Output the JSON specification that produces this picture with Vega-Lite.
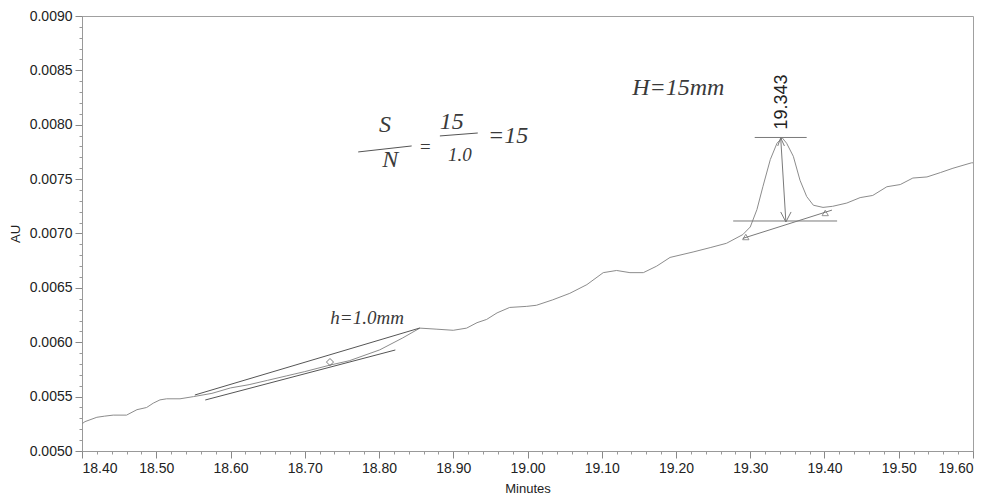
{
  "$schema": "https://vega.github.io/schema/vega-lite/v6.json",
  "width": 891,
  "height": 435,
  "autosize": {"type": "none"},
  "padding": {"left": 82, "top": 16, "right": 20, "bottom": 46},
  "background": "white",
  "config": {"view": {"stroke": "#a0a0a0", "strokeWidth": 1}, "font": "Liberation Sans"},
  "datasets": {
    "trace": [
      {"t": 18.400, "au": 0.00525}, {"t": 18.404, "au": 0.00527}, {"t": 18.420, "au": 0.00531},
      {"t": 18.430, "au": 0.00532}, {"t": 18.442, "au": 0.00533}, {"t": 18.460, "au": 0.00533},
      {"t": 18.474, "au": 0.00538}, {"t": 18.487, "au": 0.00540}, {"t": 18.496, "au": 0.00544},
      {"t": 18.505, "au": 0.00547}, {"t": 18.514, "au": 0.00548}, {"t": 18.532, "au": 0.00548},
      {"t": 18.550, "au": 0.00550}, {"t": 18.575, "au": 0.00553}, {"t": 18.600, "au": 0.00558},
      {"t": 18.625, "au": 0.00561}, {"t": 18.650, "au": 0.00565}, {"t": 18.675, "au": 0.00569},
      {"t": 18.700, "au": 0.00573}, {"t": 18.734, "au": 0.00579}, {"t": 18.760, "au": 0.00583},
      {"t": 18.801, "au": 0.00593}, {"t": 18.832, "au": 0.00604}, {"t": 18.855, "au": 0.00613},
      {"t": 18.878, "au": 0.00612}, {"t": 18.900, "au": 0.00611}, {"t": 18.918, "au": 0.00613},
      {"t": 18.932, "au": 0.00618}, {"t": 18.945, "au": 0.00621}, {"t": 18.959, "au": 0.00627},
      {"t": 18.976, "au": 0.00632}, {"t": 18.999, "au": 0.00633}, {"t": 19.012, "au": 0.00634},
      {"t": 19.034, "au": 0.00639}, {"t": 19.057, "au": 0.00645}, {"t": 19.080, "au": 0.00653},
      {"t": 19.102, "au": 0.00664}, {"t": 19.120, "au": 0.00666}, {"t": 19.138, "au": 0.00664},
      {"t": 19.156, "au": 0.00664}, {"t": 19.174, "au": 0.00670}, {"t": 19.192, "au": 0.00678},
      {"t": 19.223, "au": 0.00683}, {"t": 19.246, "au": 0.00687}, {"t": 19.268, "au": 0.00691},
      {"t": 19.290, "au": 0.00699}, {"t": 19.300, "au": 0.00706}, {"t": 19.309, "au": 0.00722},
      {"t": 19.317, "au": 0.00743}, {"t": 19.327, "au": 0.00768}, {"t": 19.336, "au": 0.00783},
      {"t": 19.343, "au": 0.00788}, {"t": 19.349, "au": 0.00783}, {"t": 19.358, "au": 0.00771},
      {"t": 19.367, "au": 0.00749}, {"t": 19.376, "au": 0.00734}, {"t": 19.385, "au": 0.00726},
      {"t": 19.398, "au": 0.00724}, {"t": 19.411, "au": 0.00725}, {"t": 19.430, "au": 0.00728},
      {"t": 19.448, "au": 0.00733}, {"t": 19.465, "au": 0.00735}, {"t": 19.484, "au": 0.00743},
      {"t": 19.502, "au": 0.00745}, {"t": 19.519, "au": 0.00751}, {"t": 19.538, "au": 0.00752},
      {"t": 19.556, "au": 0.00756}, {"t": 19.573, "au": 0.00760}, {"t": 19.598, "au": 0.00765},
      {"t": 19.600, "au": 0.00765}
    ],
    "peakLines": [
      {"t": 19.306, "au": 0.007883, "t2": 19.376, "au2": 0.007883},
      {"t": 19.277, "au": 0.007115, "t2": 19.417, "au2": 0.007115},
      {"t": 19.290, "au": 0.006955, "t2": 19.410, "au2": 0.007215},
      {"t": 19.341, "au": 0.00788, "t2": 19.348, "au2": 0.007106},
      {"t": 19.348, "au": 0.007106, "t2": 19.341, "au2": 0.007198},
      {"t": 19.348, "au": 0.007106, "t2": 19.355, "au2": 0.007198},
      {"t": 19.341, "au": 0.00788, "t2": 19.337, "au2": 0.007805},
      {"t": 19.341, "au": 0.00788, "t2": 19.346, "au2": 0.007805}
    ],
    "handLines": [
      {"t": 18.552, "au": 0.005515, "t2": 18.855, "au2": 0.006131},
      {"t": 18.566, "au": 0.005469, "t2": 18.822, "au2": 0.005929},
      {"t": 18.772, "au": 0.00775, "t2": 18.844, "au2": 0.007805},
      {"t": 18.882, "au": 0.007897, "t2": 18.933, "au2": 0.007924}
    ],
    "baseMarks": [{"t": 19.294, "au": 0.006968}, {"t": 19.401, "au": 0.007189}],
    "diamond": [{"t": 18.734, "au": 0.005818}],
    "peakLabel": [{"label": "19.343", "t": 19.343, "au": 0.008209}],
    "notesLarge": [
      {"label": "S", "t": 18.808, "au": 0.00800},
      {"label": "N", "t": 18.815, "au": 0.007676},
      {"label": "15", "t": 18.898, "au": 0.008025},
      {"label": "=15", "t": 18.974, "au": 0.007897},
      {"label": "H=15mm", "t": 19.203, "au": 0.008338}
    ],
    "notesSmall": [
      {"label": "=", "t": 18.862, "au": 0.007795},
      {"label": "1.0", "t": 18.909, "au": 0.007722},
      {"label": "h=1.0mm", "t": 18.784, "au": 0.006223}
    ]
  },
  "resolve": {"axis": {"x": "independent", "y": "independent"}},
  "layer": [
    {
      "data": {"name": "trace"},
      "mark": {"type": "line", "opacity": 0},
      "encoding": {
        "x": {"field": "t", "type": "quantitative", "scale": {"domain": [18.4, 19.6], "nice": false, "zero": false},
          "axis": {"orient": "bottom", "values": [18.40,18.42,18.44,18.46,18.48,18.50,18.52,18.54,18.56,18.58,18.60,18.62,18.64,18.66,18.68,18.70,18.72,18.74,18.76,18.78,18.80,18.82,18.84,18.86,18.88,18.90,18.92,18.94,18.96,18.98,19.00,19.02,19.04,19.06,19.08,19.10,19.12,19.14,19.16,19.18,19.20,19.22,19.24,19.26,19.28,19.30,19.32,19.34,19.36,19.38,19.40,19.42,19.44,19.46,19.48,19.50,19.52,19.54,19.56,19.58,19.60],
            "labels": false, "title": null, "domain": false, "grid": false, "tickSize": 3, "tickColor": "#999999", "tickWidth": 1}},
        "y": {"field": "au", "type": "quantitative", "scale": {"domain": [0.005, 0.009], "nice": false, "zero": false},
          "axis": {"orient": "left", "values": [0.0050,0.0051,0.0052,0.0053,0.0054,0.0055,0.0056,0.0057,0.0058,0.0059,0.0060,0.0061,0.0062,0.0063,0.0064,0.0065,0.0066,0.0067,0.0068,0.0069,0.0070,0.0071,0.0072,0.0073,0.0074,0.0075,0.0076,0.0077,0.0078,0.0079,0.0080,0.0081,0.0082,0.0083,0.0084,0.0085,0.0086,0.0087,0.0088,0.0089,0.0090],
            "labels": false, "title": null, "domain": false, "grid": false, "tickSize": 3, "tickColor": "#999999", "tickWidth": 1}}
      }
    },
    {
      "data": {"name": "trace"},
      "mark": {"type": "line", "color": "#8c8c8c", "strokeWidth": 1},
      "encoding": {
        "x": {"field": "t", "type": "quantitative", "scale": {"domain": [18.4, 19.6], "nice": false, "zero": false},
          "axis": {"orient": "bottom", "values": [18.4,18.5,18.6,18.7,18.8,18.9,19.0,19.1,19.2,19.3,19.4,19.5,19.6], "format": ".2f",
            "title": "Minutes", "grid": false, "tickSize": 7, "tickColor": "#888888", "domainColor": "#999999",
            "labelFont": "Liberation Sans", "labelFontSize": 14, "labelColor": "#222222", "labelPadding": 3,
            "titleFont": "Liberation Sans", "titleFontSize": 13, "titleFontWeight": "normal", "titleColor": "#222222", "titlePadding": 7}},
        "y": {"field": "au", "type": "quantitative", "scale": {"domain": [0.005, 0.009], "nice": false, "zero": false},
          "axis": {"orient": "left", "values": [0.005,0.0055,0.006,0.0065,0.007,0.0075,0.008,0.0085,0.009], "format": ".4f",
            "title": "AU", "grid": false, "tickSize": 7, "tickColor": "#888888", "domainColor": "#999999",
            "labelFont": "Liberation Sans", "labelFontSize": 14, "labelColor": "#222222", "labelPadding": 3,
            "titleFont": "Liberation Sans", "titleFontSize": 13, "titleFontWeight": "normal", "titleColor": "#222222", "titlePadding": 7}}
      }
    },
    {
      "data": {"name": "peakLines"},
      "mark": {"type": "rule", "color": "#7a7a7a", "strokeWidth": 1},
      "encoding": {
        "x": {"field": "t", "type": "quantitative", "axis": null},
        "y": {"field": "au", "type": "quantitative", "axis": null},
        "x2": {"field": "t2"},
        "y2": {"field": "au2"}
      }
    },
    {
      "data": {"name": "handLines"},
      "mark": {"type": "rule", "color": "#555555", "strokeWidth": 1},
      "encoding": {
        "x": {"field": "t", "type": "quantitative", "axis": null},
        "y": {"field": "au", "type": "quantitative", "axis": null},
        "x2": {"field": "t2"},
        "y2": {"field": "au2"}
      }
    },
    {
      "data": {"name": "baseMarks"},
      "mark": {"type": "point", "shape": "triangle-up", "size": 40, "filled": false, "color": "#666666", "strokeWidth": 1},
      "encoding": {
        "x": {"field": "t", "type": "quantitative", "axis": null},
        "y": {"field": "au", "type": "quantitative", "axis": null}
      }
    },
    {
      "data": {"name": "diamond"},
      "mark": {"type": "point", "shape": "diamond", "size": 50, "filled": false, "color": "#444444", "strokeWidth": 1},
      "encoding": {
        "x": {"field": "t", "type": "quantitative", "axis": null},
        "y": {"field": "au", "type": "quantitative", "axis": null}
      }
    },
    {
      "data": {"name": "peakLabel"},
      "mark": {"type": "text", "angle": 270, "font": "Liberation Sans", "fontSize": 18, "color": "#222222", "align": "center", "baseline": "middle"},
      "encoding": {
        "x": {"field": "t", "type": "quantitative", "axis": null},
        "y": {"field": "au", "type": "quantitative", "axis": null},
        "text": {"field": "label"}
      }
    },
    {
      "data": {"name": "notesLarge"},
      "mark": {"type": "text", "font": "Liberation Serif", "fontStyle": "italic", "fontSize": 24, "color": "#3a3a3a", "align": "center", "baseline": "middle"},
      "encoding": {
        "x": {"field": "t", "type": "quantitative", "axis": null},
        "y": {"field": "au", "type": "quantitative", "axis": null},
        "text": {"field": "label"}
      }
    },
    {
      "data": {"name": "notesSmall"},
      "mark": {"type": "text", "font": "Liberation Serif", "fontStyle": "italic", "fontSize": 19, "color": "#3a3a3a", "align": "center", "baseline": "middle"},
      "encoding": {
        "x": {"field": "t", "type": "quantitative", "axis": null},
        "y": {"field": "au", "type": "quantitative", "axis": null},
        "text": {"field": "label"}
      }
    }
  ]
}
